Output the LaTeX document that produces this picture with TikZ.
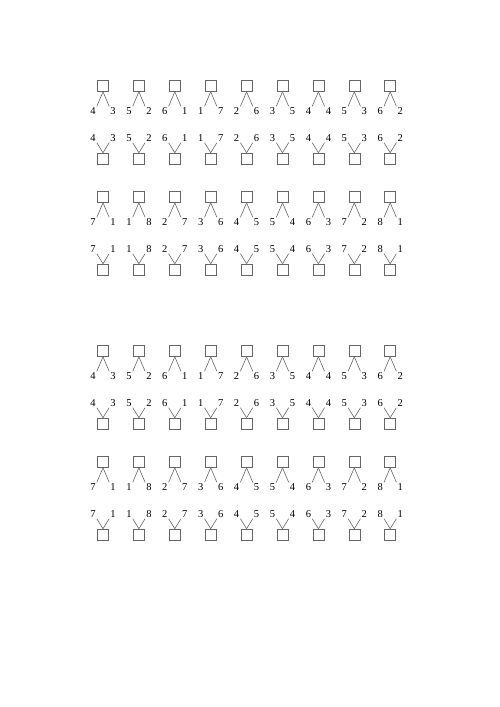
\documentclass[tikz,border=0pt]{standalone}
\usepackage{fontspec}
\setmainfont{Liberation Serif}
\usetikzlibrary{positioning}
\tikzset{
cell/.style={draw=gray!80!black, line width=0.6pt, minimum size=11pt, inner sep=0pt}, % the empty box
digit/.style={inner sep=1pt, text height=7pt, text depth=0pt, font=\fontsize{10.5}{12}\selectfont}, % the numbers
leg/.style={draw=gray!80!black, line width=0.6pt}, % the lines of the V
}
% one box over two numbers, and the same numbers over a box
\newcommand{\drawpair}[5]{%
\node[cell] (#1-up) at (#2,#3) {};
\node[digit] (#1-ul) at ({#2-10},{#3+25}) {#4};
\node[digit] (#1-ur) at ({#2+10},{#3+25}) {#5};
\draw[leg] (#1-up.south) -- (#1-ul.north east);
\draw[leg] (#1-up.south) -- (#1-ur.north west);
\node[digit] (#1-dl) at ({#2-10},{#3+52}) {#4};
\node[digit] (#1-dr) at ({#2+10},{#3+52}) {#5};
\node[cell] (#1-dn) at (#2,{#3+72.5}) {};
\draw[leg] (#1-dl.south east) -- (#1-dn.north);
\draw[leg] (#1-dr.south west) -- (#1-dn.north);
}

\begin{document}
\begin{tikzpicture}[x=1pt,y=-1pt]
\useasboundingbox (0,0) rectangle (500,707);
\foreach \s/\dy in {1/0,2/265}{
  \foreach [count=\c] \l/\r in {4/3,5/2,6/1,1/7,2/6,3/5,4/4,5/3,6/2}{
    \pgfmathsetmacro\xc{103+35.9*(\c-1)}
    \drawpair{s\s a\c}{\xc}{86+\dy}{\l}{\r}
  }
  \foreach [count=\c] \l/\r in {7/1,1/8,2/7,3/6,4/5,5/4,6/3,7/2,8/1}{
    \pgfmathsetmacro\xc{103+35.9*(\c-1)}
    \drawpair{s\s b\c}{\xc}{197+\dy}{\l}{\r}
  }
}
\end{tikzpicture}
\end{document}
